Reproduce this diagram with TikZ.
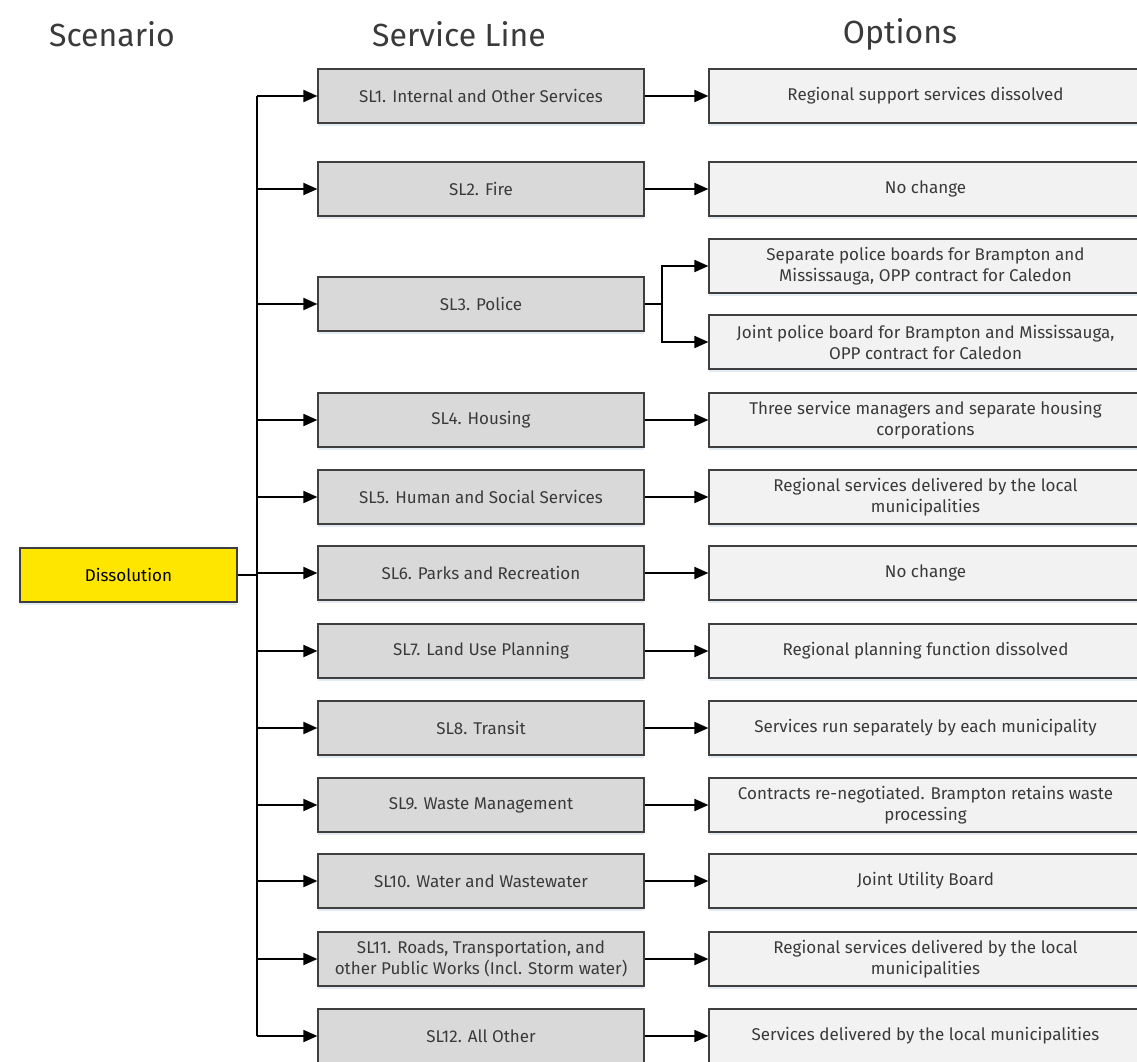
\documentclass[tikz,border=0pt]{standalone}
\usepackage{fontspec}
\setmainfont{Fira Sans}
\usetikzlibrary{arrows.meta,shadows}
\definecolor{txtgray}{HTML}{3A3A3A}
\definecolor{slfill}{HTML}{D9D9D9}
\definecolor{opfill}{HTML}{F2F2F2}
\definecolor{eyyellow}{HTML}{FFE600}
\definecolor{edgegray}{HTML}{3F3F3F}
\definecolor{shadowblue}{HTML}{DCE6F2}
\begin{document}
\begin{tikzpicture}[x=1pt,y=-1pt,
  boxbase/.style={draw=edgegray, line width=1.2pt, inner sep=0pt, align=center,
    text=txtgray, font=\fontsize{17}{21}\selectfont,
    drop shadow={shadow xshift=0pt, shadow yshift=-3pt, fill=shadowblue, opacity=0.8}},
  slbox/.style={boxbase, fill=slfill, minimum width=326pt, minimum height=54pt},
  opbox/.style={boxbase, fill=opfill, minimum width=433pt, minimum height=54pt},
  scenbox/.style={boxbase, fill=eyyellow, text=black, minimum width=217pt, minimum height=54pt},
  header/.style={font=\fontsize{32}{36}\selectfont, text=txtgray},
  conn/.style={line width=1.8pt, black},
  arr/.style={conn, -{Triangle[length=14pt,width=12pt]}}
]
\clip (0,0) rectangle (1137,1062);
\fill[white] (0,0) rectangle (1137,1062);

% headers
\node[header] (h1) at (112,34) {Scenario};
\node[header] (h2) at (459,34) {Service Line};
\node[header] (h3) at (900,34) {Options};

% scenario
\node[scenbox] (diss) at (128.5,575) {Dissolution};

% service lines
\node[slbox] (sl1)  at (481,96)  {SL1. Internal and Other Services};
\node[slbox] (sl2)  at (481,189) {SL2. Fire};
\node[slbox] (sl3)  at (481,304) {SL3. Police};
\node[slbox] (sl4)  at (481,420) {SL4. Housing};
\node[slbox] (sl5)  at (481,497) {SL5. Human and Social Services};
\node[slbox] (sl6)  at (481,573) {SL6. Parks and Recreation};
\node[slbox] (sl7)  at (481,651) {SL7. Land Use Planning};
\node[slbox] (sl8)  at (481,728) {SL8. Transit};
\node[slbox] (sl9)  at (481,805) {SL9. Waste Management};
\node[slbox] (sl10) at (481,881) {SL10. Water and Wastewater};
\node[slbox] (sl11) at (481,959) {SL11. Roads, Transportation, and\\other Public Works (Incl. Storm water)};
\node[slbox] (sl12) at (481,1036) {SL12. All Other};

% options
\node[opbox] (op1)  at (925.5,96)  {Regional support services dissolved};
\node[opbox] (op2)  at (925.5,189) {No change};
\node[opbox] (op3a) at (925.5,266) {Separate police boards for Brampton and\\Mississauga, OPP contract for Caledon};
\node[opbox] (op3b) at (925.5,342) {Joint police board for Brampton and Mississauga,\\OPP contract for Caledon};
\node[opbox] (op4)  at (925.5,420) {Three service managers and separate housing\\corporations};
\node[opbox] (op5)  at (925.5,497) {Regional services delivered by the local\\municipalities};
\node[opbox] (op6)  at (925.5,573) {No change};
\node[opbox] (op7)  at (925.5,651) {Regional planning function dissolved};
\node[opbox] (op8)  at (925.5,728) {Services run separately by each municipality};
\node[opbox] (op9)  at (925.5,805) {Contracts re-negotiated. Brampton retains waste\\processing};
\node[opbox] (op10) at (925.5,881) {Joint Utility Board};
\node[opbox] (op11) at (925.5,959) {Regional services delivered by the local\\municipalities};
\node[opbox] (op12) at (925.5,1036) {Services delivered by the local municipalities};

% bus
\coordinate (bustop) at (257,96);
\coordinate (busbot) at (257,1036);
\coordinate (busmid) at (257,575);
\draw[conn] (bustop) -- (busbot);
\draw[conn] (diss.east) -- (busmid);
\foreach \n in {sl1,sl2,sl3,sl4,sl5,sl6,sl7,sl8,sl9,sl10,sl11,sl12}{
  \draw[arr] (bustop |- \n.west) -- (\n.west);
}

% service line to options
\foreach \a/\b in {sl1/op1,sl2/op2,sl4/op4,sl5/op5,sl6/op6,sl7/op7,sl8/op8,sl9/op9,sl10/op10,sl11/op11,sl12/op12}{
  \draw[arr] (\a.east) -- (\b.west);
}

% police fork
\coordinate (fork) at (662,304);
\draw[conn] (sl3.east) -- (fork);
\draw[arr] (fork) |- (op3a.west);
\draw[arr] (fork) |- (op3b.west);
\end{tikzpicture}
\end{document}
